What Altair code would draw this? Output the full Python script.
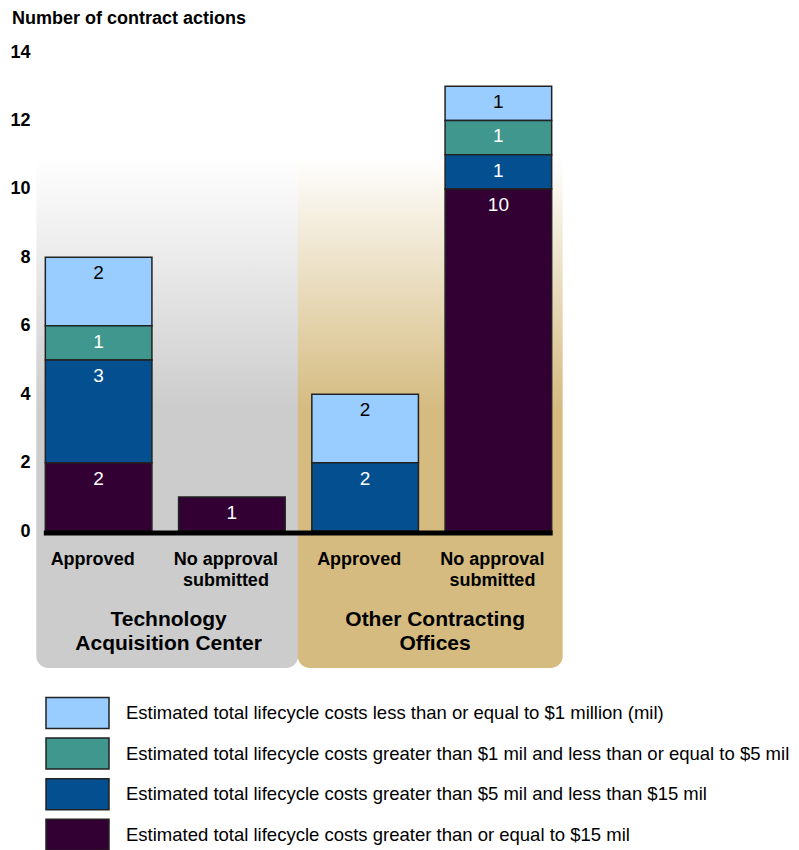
import altair as alt
import pandas as pd

# ---------------- data ----------------
bar_keys = ["TAC|Approved", "TAC|None", "OCO|Approved", "OCO|None"]
bar_statuses = ["Approved", "No approval\nsubmitted", "Approved", "No approval\nsubmitted"]
group_names = ["Technology\nAcquisition Center", "Other Contracting\nOffices"]
group_first_bar = ["TAC|Approved", "OCO|Approved"]
group_last_bar = ["TAC|None", "OCO|None"]

cost_tiers = [
    "Estimated total lifecycle costs less than or equal to $1 million (mil)",
    "Estimated total lifecycle costs greater than $1 mil and less than or equal to $5 mil",
    "Estimated total lifecycle costs greater than $5 mil and less than $15 mil",
    "Estimated total lifecycle costs greater than or equal to $15 mil",
]
tier_colors = ["#99CCFF", "#3F978E", "#044F8F", "#330033"]

# counts per bar, in bar_keys order
counts_le_1 = [2, 0, 2, 1]
counts_1_to_5 = [1, 0, 0, 1]
counts_5_to_15 = [3, 0, 2, 1]
counts_ge_15 = [2, 1, 0, 10]
series = [counts_le_1, counts_1_to_5, counts_5_to_15, counts_ge_15]

y_ticks = [0, 2, 4, 6, 8, 10, 12, 14]

# ---------------- tables ----------------
rows = []
for i, key in enumerate(bar_keys):
    for t, vals in enumerate(series):
        if vals[i] > 0:
            rows.append({"bar": key, "tier": cost_tiers[t], "tier_order": t, "count": vals[i]})
df = pd.DataFrame(rows)
df_cats = pd.DataFrame({"bar": bar_keys, "status": bar_statuses})
df_groups = pd.DataFrame({"bar": group_first_bar, "bar2": group_last_bar, "group": group_names})
df_base = pd.DataFrame({"bar": [bar_keys[0]], "bar2": [bar_keys[-1]]})

FONT = "Liberation Sans"

xscale = alt.Scale(domain=bar_keys, paddingInner=0.2, paddingOuter=0.1)
yscale = alt.Scale(domain=[-4, 14], nice=False, zero=False)

def grad(color):
    return alt.LinearGradient(
        gradient="linear",
        stops=[
            alt.GradientStop(offset=0, color="#ffffff"),
            alt.GradientStop(offset=0.17, color="#ffffff"),
            alt.GradientStop(offset=0.58, color=color),
            alt.GradientStop(offset=1, color=color),
        ],
        x1=0, x2=0, y1=0, y2=1,
    )

panel_gray = alt.Chart(df_groups.iloc[[0]]).mark_rect(
    fill=grad("#CCCCCC"), cornerRadiusBottomLeft=12, cornerRadiusBottomRight=12,
    xOffset=-9, x2Offset=13,
).encode(
    x=alt.X("bar:N", scale=xscale, axis=None, bandPosition=0),
    x2=alt.X2("bar2:N", bandPosition=1),
)

panel_tan = alt.Chart(df_groups.iloc[[1]]).mark_rect(
    fill=grad("#D5BB80"), cornerRadiusBottomLeft=12, cornerRadiusBottomRight=12,
    xOffset=-14, x2Offset=11,
).encode(
    x=alt.X("bar:N", scale=xscale, axis=None, bandPosition=0),
    x2=alt.X2("bar2:N", bandPosition=1),
)

stacked = alt.Chart(df).transform_stack(
    stack="count",
    groupby=["bar"],
    sort=[alt.SortField("tier_order", order="descending")],
    as_=["y0", "y1"],
)

bars = stacked.mark_bar(stroke="#222222", strokeWidth=1.5).encode(
    x=alt.X("bar:N", scale=xscale, axis=None),
    y=alt.Y(
        "y0:Q", scale=yscale, title=None,
        axis=alt.Axis(values=y_ticks, grid=False, domain=False, ticks=False,
                      labelFont=FONT, labelFontSize=18, labelFontWeight="bold",
                      labelColor="#000000", labelPadding=2),
    ),
    y2="y1:Q",
    color=alt.Color(
        "tier:N",
        scale=alt.Scale(domain=cost_tiers, range=tier_colors),
        legend=alt.Legend(
            title=None, orient="none", legendX=26.5, legendY=642, direction="vertical",
            symbolType="M-1.75,-0.86H1.75V0.86H-1.75Z", symbolSize=1296,
            symbolStrokeColor="#222222", symbolStrokeWidth=1.5, symbolOpacity=1,
            labelFont=FONT, labelFontSize=18.5, labelColor="#000000",
            labelOffset=29.5, labelLimit=0, rowPadding=2.6, padding=0,
        ),
    ),
)

values = stacked.mark_text(font=FONT, fontSize=19, baseline="middle", dy=16).encode(
    x=alt.X("bar:N", scale=xscale, axis=None),
    y=alt.Y("y1:Q", scale=yscale),
    text=alt.Text("count:Q"),
    color=alt.condition(alt.datum.tier_order == 0, alt.value("#000000"), alt.value("#ffffff")),
)

baseline = alt.Chart(df_base).mark_rule(
    color="#000000", strokeWidth=5, yOffset=2, xOffset=-1.5, x2Offset=1
).encode(
    x=alt.X("bar:N", scale=xscale, axis=None, bandPosition=0),
    x2=alt.X2("bar2:N", bandPosition=1),
    y=alt.datum(0),
)

cat_text = alt.Chart(df_cats).mark_text(
    font=FONT, fontSize=18, fontWeight="bold", baseline="top", dy=20, dx=-6,
    lineBreak="\n", lineHeight=21, color="#000000",
).encode(
    x=alt.X("bar:N", scale=xscale, axis=None),
    y=alt.datum(0),
    text="status:N",
)

group_text = alt.Chart(df_groups).mark_text(
    font=FONT, fontSize=21, fontWeight="bold", baseline="top", dy=78, dx=70,
    lineBreak="\n", lineHeight=24, color="#000000",
).encode(
    x=alt.X("bar:N", scale=xscale, axis=None),
    y=alt.datum(0),
    text="group:N",
)

chart = alt.layer(
    panel_gray, panel_tan, bars, baseline, values, cat_text, group_text
).properties(
    width=533,
    height=616,
    autosize="none",
    padding={"left": 24, "top": 44, "right": 226, "bottom": 182},
    title=alt.TitleParams(
        "Number of contract actions", anchor="start", frame="group",
        font=FONT, fontSize=18, fontWeight="bold", color="#000000",
        dx=-20, offset=15,
    ),
).configure(
    background="#ffffff",
    view=alt.ViewConfig(strokeWidth=0, stroke="transparent"),
)

chart.save("out.html", embed_options={"renderer": "svg", "actions": False})
